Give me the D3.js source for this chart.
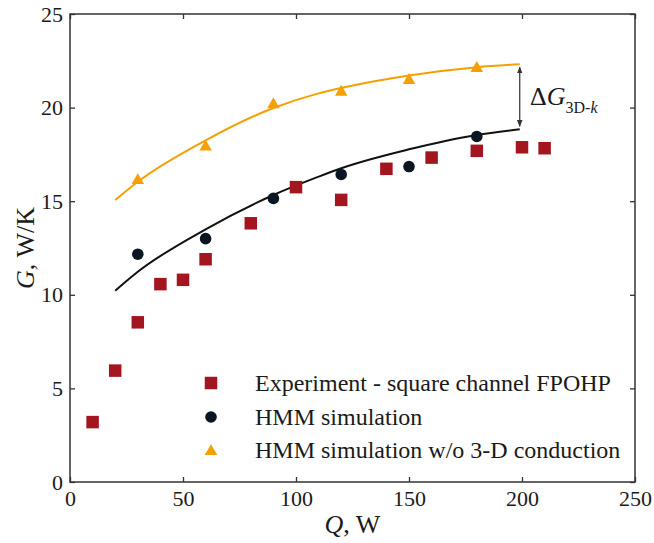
<!DOCTYPE html>
<html>
<head>
<meta charset="utf-8">
<script src="https://cdn.jsdelivr.net/npm/d3@7"></script>
<style>
  body { margin: 0; background: #fff; }
  svg text { font-family: "Liberation Serif", "Times New Roman", serif; fill: #1a1a1a; }
</style>
</head>
<body>
<svg id="chart" width="654" height="543"></svg>
<script>
// Experiment - square channel FPOHP
const expQ = [10, 20, 30, 40, 50, 60, 80, 100, 120, 140, 160, 180, 200, 210];
const expG = [3.2, 5.95, 8.53, 10.57, 10.8, 11.9, 13.82, 15.75, 15.07, 16.73, 17.33, 17.69, 17.88, 17.83];

// HMM simulation
const hmmQ = [30, 60, 90, 120, 150, 180];
const hmmG = [12.17, 13.0, 15.15, 16.43, 16.85, 18.46];

// HMM simulation w/o 3-D conduction
const no3dQ = [30, 60, 90, 120, 150, 180];
const no3dG = [16.19, 17.98, 20.24, 20.91, 21.54, 22.18];

// Trend curves through the two simulation series
const fitHmmQ = [20, 30, 60, 90, 110, 120, 150, 180, 199];
const fitHmmG = [10.22, 11.23, 13.5, 15.33, 16.31, 16.76, 17.77, 18.54, 18.84];
const fitNo3dQ = [20, 30, 60, 90, 110, 120, 150, 180, 199];
const fitNo3dG = [15.06, 16.04, 18.25, 19.98, 20.76, 21.05, 21.72, 22.16, 22.32];

const xTicks = [0, 50, 100, 150, 200, 250];
const yTicks = [0, 5, 10, 15, 20, 25];
const legendLabels = [
  "Experiment - square channel FPOHP",
  "HMM simulation",
  "HMM simulation w/o 3-D conduction"
];

const RED = "#a3151f", NAVY = "#0b1622", ORANGE = "#f5a000", AXIS = "#333";

const svg = d3.select("#chart");
const x = d3.scaleLinear().domain([0, 250]).range([70, 635]);
const y = d3.scaleLinear().domain([0, 25]).range([482, 14]);

const zip = (a, b) => a.map((v, i) => [v, b[i]]);

// Frame
svg.append("rect")
  .attr("x", x(0)).attr("y", y(25))
  .attr("width", x(250) - x(0)).attr("height", y(0) - y(25))
  .attr("fill", "none").attr("stroke", AXIS).attr("stroke-width", 1.5);

function styleAxis(g, labelSize) {
  g.select(".domain").remove();
  g.selectAll(".tick line").attr("stroke", AXIS).attr("stroke-width", 1.3);
  g.selectAll(".tick text").attr("font-size", labelSize).attr("fill", "#1a1a1a")
    .attr("font-family", '"Liberation Serif", "Times New Roman", serif');
}

svg.append("g").attr("transform", `translate(0,${y(0)})`)
  .call(d3.axisBottom(x).tickValues(xTicks).tickSize(-5).tickPadding(8).tickFormat(d3.format("d")))
  .call(g => styleAxis(g, 22));
svg.append("g").attr("transform", `translate(0,${y(25)})`)
  .call(d3.axisTop(x).tickValues(xTicks).tickSize(-5).tickFormat(""))
  .call(g => styleAxis(g, 22));
svg.append("g").attr("transform", `translate(${x(0)},0)`)
  .call(d3.axisLeft(y).tickValues(yTicks).tickSize(-5).tickPadding(7).tickFormat(d3.format("d")))
  .call(g => styleAxis(g, 22));
svg.append("g").attr("transform", `translate(${x(250)},0)`)
  .call(d3.axisRight(y).tickValues(yTicks).tickSize(-5).tickFormat(""))
  .call(g => styleAxis(g, 22));

// Axis titles
const xTitle = svg.append("text")
  .attr("x", (x(0) + x(250)) / 2).attr("y", 533)
  .attr("text-anchor", "middle").attr("font-size", 26);
xTitle.append("tspan").attr("font-style", "italic").text("Q");
xTitle.append("tspan").text(", W");

const yTitle = svg.append("text")
  .attr("transform", `translate(34,${(y(0) + y(25)) / 2}) rotate(-90)`)
  .attr("text-anchor", "middle").attr("font-size", 26);
yTitle.append("tspan").attr("font-style", "italic").text("G");
yTitle.append("tspan").text(", W/K");

// Trend curves
const line = d3.line().x(d => x(d[0])).y(d => y(d[1])).curve(d3.curveMonotoneX);
svg.append("path").datum(zip(fitNo3dQ, fitNo3dG))
  .attr("d", line).attr("fill", "none").attr("stroke", ORANGE).attr("stroke-width", 2);
svg.append("path").datum(zip(fitHmmQ, fitHmmG))
  .attr("d", line).attr("fill", "none").attr("stroke", "#111").attr("stroke-width", 2);

// Markers
const sq = 12.5, rad = 5.8;
const triangle = d3.symbol().type(d3.symbolTriangle).size(68);

svg.append("g").selectAll("rect").data(zip(expQ, expG)).join("rect")
  .attr("x", d => x(d[0]) - sq / 2).attr("y", d => y(d[1]) - sq / 2)
  .attr("width", sq).attr("height", sq).attr("fill", RED);

svg.append("g").selectAll("circle").data(zip(hmmQ, hmmG)).join("circle")
  .attr("cx", d => x(d[0])).attr("cy", d => y(d[1])).attr("r", rad).attr("fill", NAVY);

svg.append("g").selectAll("path").data(zip(no3dQ, no3dG)).join("path")
  .attr("d", triangle)
  .attr("transform", d => `translate(${x(d[0])},${y(d[1]) + 1.5})`)
  .attr("fill", ORANGE);

// Gap arrow between the two curve ends
const defs = svg.append("defs");
defs.append("marker").attr("id", "ah").attr("viewBox", "0 0 10 10")
  .attr("refX", 9).attr("refY", 5).attr("markerWidth", 7).attr("markerHeight", 7)
  .attr("markerUnits", "userSpaceOnUse").attr("orient", "auto-start-reverse")
  .append("path").attr("d", "M0,1 L10,5 L0,9 Z").attr("fill", AXIS);

const qGap = fitNo3dQ[fitNo3dQ.length - 1];
svg.append("line")
  .attr("x1", x(qGap)).attr("x2", x(qGap))
  .attr("y1", y(fitNo3dG[fitNo3dG.length - 1]) + 3)
  .attr("y2", y(fitHmmG[fitHmmG.length - 1]) - 3)
  .attr("stroke", AXIS).attr("stroke-width", 1.2)
  .attr("marker-start", "url(#ah)").attr("marker-end", "url(#ah)");

const gapLabel = svg.append("text").attr("x", 530).attr("y", 105).attr("font-size", 26);
gapLabel.append("tspan").text("\u0394");
gapLabel.append("tspan").attr("font-style", "italic").text("G");
gapLabel.append("tspan").attr("font-size", 16).attr("dy", 8).text("3D-");
gapLabel.append("tspan").attr("font-size", 16).attr("font-style", "italic").text("k");

// Legend
const legY = [383, 417, 450];
const legX = 211;
const leg = svg.append("g");
leg.append("rect").attr("x", legX - sq / 2).attr("y", legY[0] - sq / 2)
  .attr("width", sq).attr("height", sq).attr("fill", RED);
leg.append("circle").attr("cx", legX).attr("cy", legY[1]).attr("r", rad).attr("fill", NAVY);
leg.append("path").attr("d", triangle)
  .attr("transform", `translate(${legX},${legY[2] + 1.5})`).attr("fill", ORANGE);
leg.selectAll("text").data(legendLabels).join("text")
  .attr("x", 255).attr("y", (d, i) => legY[i] + 7.5)
  .attr("font-size", 24).text(d => d);
</script>
</body>
</html>
